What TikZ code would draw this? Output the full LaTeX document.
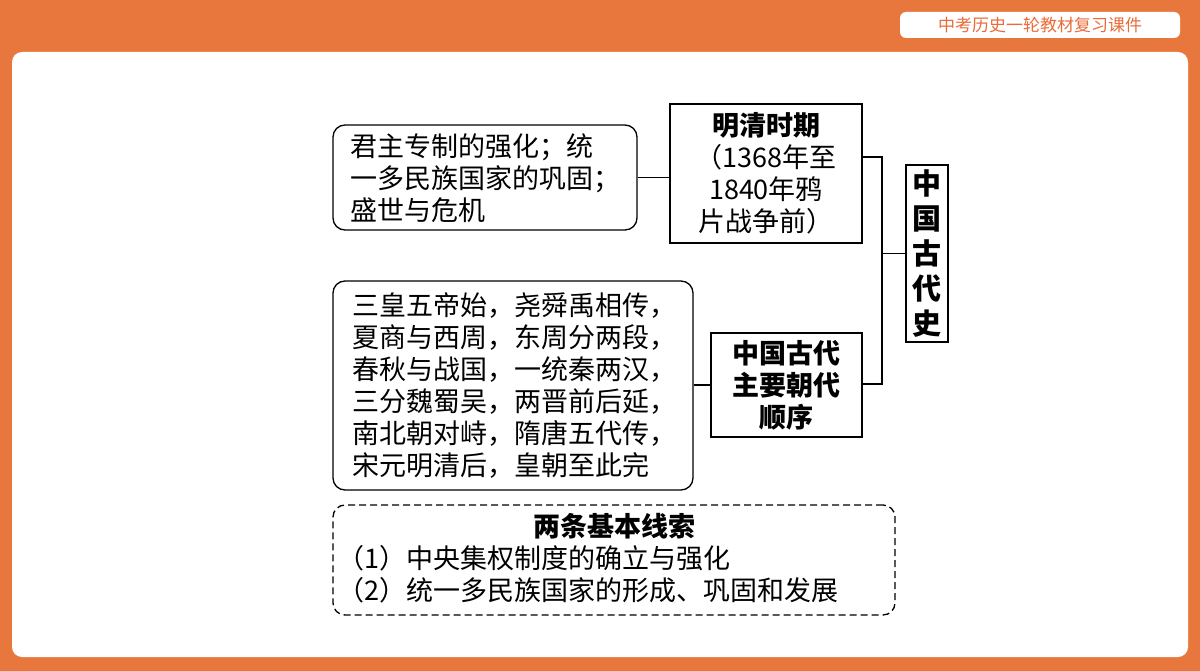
\documentclass[tikz,border=0pt]{standalone}
\usepackage{fontspec}
\newfontfamily\cjk{Noto Sans CJK SC}
\definecolor{bgor}{HTML}{E8773E}
\begin{document}
\begin{tikzpicture}[x=1pt,y=-1pt,
  txt/.style={font=\cjk\fontsize{27}{32}\selectfont, inner sep=0pt, align=left},
  sq/.style={draw, line width=1.3pt, inner sep=0pt},
  rd/.style={draw, line width=1.3pt, rounded corners=12pt, inner sep=0pt},
  ln/.style={line width=1.3pt}]
\fill[bgor] (0,0) rectangle (1200,671);
\fill[white, rounded corners=10pt] (12,52) rectangle (1188,657);
\fill[white, rounded corners=6pt] (900,12) rectangle (1180,38);
\node[font=\cjk\fontsize{17}{20}\selectfont, text=bgor!90!red] (hdr) at (1040,25) {中考历史一轮教材复习课件};
% boxes
\node[sq, minimum width=42pt, minimum height=177pt] (zg) at (927,253.5) {};
\node[font=\cjk\bfseries\fontsize{29}{35}\selectfont, align=center] at (zg) {中\\国\\古\\代\\史};
\node[sq, minimum width=192pt, minimum height=139pt] (mq) at (766,173.5) {};
\node[txt, align=center] at (766,173.5) {\bfseries 明清时期\\（1368年至\\1840年鸦\\片战争前）};
\node[sq, minimum width=151pt, minimum height=104pt] (cd) at (786.5,385) {};
\node[txt, align=center, font=\cjk\bfseries\fontsize{27}{32}\selectfont] at (cd) {中国古代\\主要朝代\\顺序};
\node[rd, minimum width=304pt, minimum height=105pt] (l1) at (485,177.5) {};
\node[txt] at (485,178) {君主专制的强化；统\\一多民族国家的巩固；\\盛世与危机};
\node[rd, minimum width=360pt, minimum height=209pt] (l2) at (513,385.5) {};
\node[txt] at (514,385.5) {三皇五帝始，尧舜禹相传，\\夏商与西周，东周分两段，\\春秋与战国，一统秦两汉，\\三分魏蜀吴，两晋前后延，\\南北朝对峙，隋唐五代传，\\宋元明清后，皇朝至此完};
\node[rd, dash pattern=on 7pt off 4pt, minimum width=562pt, minimum height=110pt] (db) at (614,560) {};
\node[txt, anchor=north, font=\cjk\bfseries\fontsize{27}{32}\selectfont] at (614,513) {两条基本线索};
\node[txt, anchor=north west] at (337,545) {（1）中央集权制度的确立与强化\\（2）统一多民族国家的形成、巩固和发展};
% connectors
\coordinate (bt) at (882,157);
\coordinate (bb) at (882,384);
\draw[ln] (mq.east |- bt) -- (bt) -- (bb) -- (cd.east |- bb);
\draw[ln] (882,253.5) -- (zg.west);
\draw[ln] (l1.east) -- (mq.west |- l1.east);
\draw[ln] (l2.east |- cd.west) -- (cd.west);
\end{tikzpicture}
\end{document}
